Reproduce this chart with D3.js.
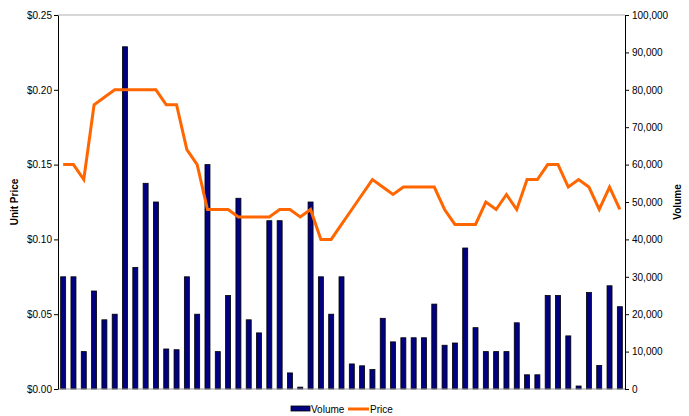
<!DOCTYPE html>
<html>
<head>
<meta charset="utf-8">
<script src="https://cdn.jsdelivr.net/npm/d3@7"></script>
<style>
  body { margin: 0; background: #fff; }
  svg { display: block; font-family: "Liberation Sans", Arial, sans-serif; }
  .axis text { font-size: 10px; fill: #000; }
  .axis path, .axis line { stroke: #000; }
</style>
</head>
<body>
<div id="chart"></div>
<script>
// one entry per trading period (55 in total)
const periods = d3.range(1, 56)

const volume = [
  30000, 30000, 10000, 26200, 18500, 20000, 91500, 32500, 55000, 50000,
  10700, 10500, 30000, 20000, 60000, 10000, 25000, 51000, 18500, 15000,
  45000, 45000, 4300, 500, 50000, 30000, 20000, 30000, 6700, 6200,
  5200, 18900, 12600, 13700, 13700, 13700, 22700, 11700, 12300, 37700,
  16400, 10000, 10000, 10000, 17700, 3800, 3800, 25000, 25000, 14200,
  800, 25800, 6300, 27600, 22000
]

const price = [
  0.150, 0.150, 0.140, 0.190, 0.195, 0.200, 0.200, 0.200, 0.200, 0.200,
  0.190, 0.190, 0.160, 0.150, 0.120, 0.120, 0.120, 0.115, 0.115, 0.115,
  0.115, 0.120, 0.120, 0.115, 0.120, 0.100, 0.100, 0.110, 0.120, 0.130,
  0.140, 0.135, 0.130, 0.135, 0.135, 0.135, 0.135, 0.120, 0.110, 0.110,
  0.110, 0.125, 0.120, 0.130, 0.120, 0.140, 0.140, 0.150, 0.150, 0.135,
  0.140, 0.135, 0.120, 0.135, 0.120
]

const priceTicks = [0, 0.05, 0.10, 0.15, 0.20, 0.25]
const volumeTicks = d3.range(0, 100001, 10000)

const W = 689, H = 416
const margin = { top: 15, right: 64, bottom: 27, left: 58 }
const width = W - margin.left - margin.right,
      height = H - margin.top - margin.bottom

const svg = d3.select('#chart').append('svg')
    .attr('width', W)
    .attr('height', H)
  .append('g')
    .attr('transform', 'translate(' + margin.left + ',' + margin.top + ')')

const x = d3.scaleBand().domain(periods).range([0, width])
const yPrice = d3.scaleLinear().domain([0, 0.25]).range([height, 0])
const yVol = d3.scaleLinear().domain([0, 100000]).range([height, 0])

// top border line of the plot area
svg.append('line')
    .attr('x1', 0).attr('x2', width)
    .attr('y1', 0).attr('y2', 0)
    .attr('stroke', '#b0b0b0')

// bars (volume, right axis)
const barW = 5
svg.append('g').selectAll('rect').data(volume)
  .enter().append('rect')
    .attr('x', (d, i) => x(periods[i]) + x.bandwidth() / 2 - barW / 2)
    .attr('y', d => yVol(d))
    .attr('width', barW)
    .attr('height', d => height - yVol(d))
    .attr('fill', '#000080')
    .attr('stroke', '#000')
    .attr('stroke-width', 0.8)

// bottom category axis line
svg.append('line')
    .attr('x1', 0).attr('x2', width)
    .attr('y1', height).attr('y2', height)
    .attr('stroke', '#999')

// price line
const line = d3.line()
    .x((d, i) => x(periods[i]) + x.bandwidth() / 2)
    .y(d => yPrice(d))

svg.append('path')
    .datum(price)
    .attr('d', line)
    .attr('fill', 'none')
    .attr('stroke', '#ff6600')
    .attr('stroke-width', 3)
    .attr('stroke-linejoin', 'miter')

// axes
svg.append('g').attr('class', 'axis')
    .call(d3.axisLeft(yPrice).tickValues(priceTicks)
      .tickFormat(d3.format('$.2f')).tickSize(4).tickSizeOuter(0).tickPadding(2))

svg.append('g').attr('class', 'axis')
    .attr('transform', 'translate(' + width + ',0)')
    .call(d3.axisRight(yVol).tickValues(volumeTicks)
      .tickFormat(d3.format(',')).tickSize(4).tickSizeOuter(0).tickPadding(3))

svg.selectAll('.axis .domain').attr('stroke', '#000')

// axis titles
svg.append('text')
    .attr('transform', 'translate(' + (-40) + ',' + (height / 2) + ') rotate(-90)')
    .attr('text-anchor', 'middle')
    .style('font-size', '10px')
    .style('font-weight', 'bold')
    .text('Unit Price')

svg.append('text')
    .attr('transform', 'translate(' + (width + 56) + ',' + (height / 2) + ') rotate(-90)')
    .attr('text-anchor', 'middle')
    .style('font-size', '10px')
    .style('font-weight', 'bold')
    .text('Volume')

// legend
const legend = d3.select('svg').append('g')
    .attr('transform', 'translate(291,405)')

legend.append('rect')
    .attr('x', 0).attr('y', 1)
    .attr('width', 19).attr('height', 5)
    .attr('fill', '#000080')
    .attr('stroke', '#000')
    .attr('stroke-width', 0.8)

legend.append('text')
    .attr('x', 20).attr('y', 8)
    .style('font-size', '10px')
    .text('Volume')

legend.append('line')
    .attr('x1', 57).attr('x2', 78)
    .attr('y1', 4).attr('y2', 4)
    .attr('stroke', '#ff6600')
    .attr('stroke-width', 3)

legend.append('text')
    .attr('x', 79).attr('y', 8)
    .style('font-size', '10px')
    .text('Price')
</script>
</body>
</html>
